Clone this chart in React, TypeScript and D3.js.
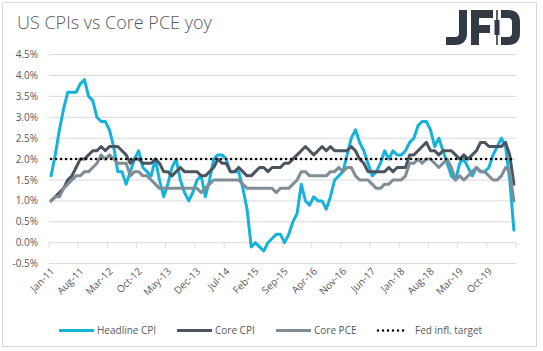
import * as d3 from 'd3';

const W = 543;
const H = 351;

// monthly, Jan-11 .. Apr-20
const START = new Date(2011, 0, 1);
const END = new Date(2020, 4, 1);
const MONTHS = d3.timeMonths(START, END);

const TICK_LABELS = [
  'Jan-11', 'Aug-11', 'Mar-12', 'Oct-12', 'May-13', 'Dec-13', 'Jul-14', 'Feb-15',
  'Sep-15', 'Apr-16', 'Nov-16', 'Jun-17', 'Jan-18', 'Aug-18', 'Mar-19', 'Oct-19',
];
const Y_TICKS = [-0.5, 0, 0.5, 1, 1.5, 2, 2.5, 3, 3.5, 4, 4.5];

const HEADLINE_CPI = [
  1.6, 2.1, 2.7, 3.2, 3.6, 3.6, 3.6, 3.8, 3.9, 3.5, 3.4, 3.0,
  2.9, 2.9, 2.7, 2.3, 1.7, 1.7, 1.4, 1.7, 2.0, 2.2, 1.8, 1.7,
  1.6, 2.0, 1.5, 1.1, 1.4, 1.8, 2.0, 1.5, 1.2, 1.0, 1.2, 1.5,
  1.6, 1.1, 1.5, 2.0, 2.1, 2.1, 2.0, 1.7, 1.7, 1.7, 1.3, 0.8,
  -0.1, 0.0, -0.1, -0.2, 0.0, 0.1, 0.2, 0.2, 0.0, 0.2, 0.5, 0.7,
  1.4, 1.0, 0.9, 1.1, 1.0, 1.0, 0.8, 1.1, 1.5, 1.6, 1.7, 2.1,
  2.5, 2.7, 2.4, 2.2, 1.9, 1.6, 1.7, 1.9, 2.2, 2.0, 2.2, 2.1,
  2.1, 2.2, 2.4, 2.5, 2.8, 2.9, 2.9, 2.7, 2.3, 2.5, 2.2, 1.9,
  1.6, 1.5, 1.9, 2.0, 1.8, 1.6, 1.8, 1.7, 1.7, 1.8, 2.1, 2.3,
  2.5, 2.3, 1.5, 0.3,
];

const CORE_CPI = [
  1.0, 1.1, 1.2, 1.3, 1.5, 1.6, 1.8, 2.0, 2.0, 2.1, 2.2, 2.2,
  2.3, 2.2, 2.3, 2.3, 2.3, 2.2, 2.1, 1.9, 2.0, 2.0, 1.9, 1.9,
  1.9, 2.0, 1.9, 1.7, 1.7, 1.6, 1.7, 1.8, 1.7, 1.7, 1.7, 1.7,
  1.6, 1.6, 1.7, 1.8, 2.0, 1.9, 1.9, 1.7, 1.7, 1.8, 1.7, 1.6,
  1.6, 1.7, 1.8, 1.8, 1.7, 1.8, 1.8, 1.8, 1.9, 1.9, 2.0, 2.1,
  2.2, 2.3, 2.2, 2.1, 2.2, 2.3, 2.2, 2.3, 2.2, 2.2, 2.2, 2.2,
  2.3, 2.2, 2.0, 1.9, 1.7, 1.7, 1.7, 1.7, 1.7, 1.8, 1.7, 1.8,
  1.8, 1.8, 2.1, 2.1, 2.2, 2.3, 2.4, 2.2, 2.2, 2.1, 2.2, 2.2,
  2.2, 2.1, 2.0, 2.1, 2.0, 2.1, 2.2, 2.4, 2.4, 2.3, 2.3, 2.3,
  2.3, 2.4, 2.1, 1.4,
];

const CORE_PCE = [
  1.0, 1.1, 1.1, 1.3, 1.4, 1.5, 1.6, 1.6, 1.7, 1.7, 1.8, 1.9,
  2.1, 2.0, 2.1, 2.0, 1.9, 1.9, 1.9, 1.6, 1.7, 1.7, 1.6, 1.6,
  1.5, 1.4, 1.3, 1.3, 1.3, 1.3, 1.3, 1.3, 1.3, 1.3, 1.3, 1.3,
  1.2, 1.3, 1.4, 1.5, 1.5, 1.5, 1.5, 1.5, 1.5, 1.5, 1.4, 1.3,
  1.3, 1.3, 1.3, 1.3, 1.3, 1.3, 1.2, 1.3, 1.3, 1.3, 1.4, 1.5,
  1.7, 1.7, 1.6, 1.6, 1.6, 1.6, 1.6, 1.7, 1.7, 1.8, 1.7, 1.8,
  1.8, 1.6, 1.5, 1.5, 1.5, 1.4, 1.3, 1.3, 1.4, 1.4, 1.5, 1.5,
  1.5, 1.6, 1.9, 1.9, 2.0, 1.9, 2.0, 2.0, 1.9, 1.8, 1.9, 2.0,
  1.8, 1.5, 1.6, 1.5, 1.6, 1.7, 1.8, 1.7, 1.7, 1.6, 1.5, 1.5,
  1.6, 1.8, 1.7, 1.0,
];

const FED_TARGET = 2.0;

const SERIES = [
  { name: 'Headline CPI', values: HEADLINE_CPI, color: '#15b3d9' },
  { name: 'Core CPI', values: CORE_CPI, color: '#4b5560' },
  { name: 'Core PCE', values: CORE_PCE, color: '#7f8d96' },
];

const TEXT = '#595959';
const GRID = '#d9d9d9';
const FONT = 'Open Sans, Liberation Sans, sans-serif';

function Logo() {
  const c = '#323a44';
  return (
    <g fill="none" stroke={c} strokeWidth={8}>
      {/* J */}
      <path d="M463 10 V33 Q463 41 455 41 H446" />
      {/* F */}
      <path d="M475 10 V45" />
      <path d="M471 14 H493" />
      <path d="M471 29 H490" />
      {/* D with candlestick */}
      <line x1={497} x2={497} y1={10} y2={45} strokeWidth={1.6} />
      <rect x={494.5} y={20} width={5} height={15} fill={c} stroke="none" />
      <path d="M501 14 H508 Q516 14 516 22 V33 Q516 41 508 41 H501" />
    </g>
  );
}

export default function App() {
  const left = 49;
  const right = 516;
  const x = d3
    .scaleBand<number>()
    .domain(d3.range(MONTHS.length))
    .range([left, right])
    .padding(0);
  const bw = x.bandwidth();
  const cx = (i: number) => (x(i) ?? 0) + bw / 2;

  const y = d3.scaleLinear().domain([-0.5, 4.5]).range([263.6, 54.6]);

  const line = d3
    .line<number>()
    .x((_, i) => cx(i))
    .y((d) => y(d));

  const tickIdx = d3.range(0, MONTHS.length, 7);
  const fmtPct = (v: number) => `${v.toFixed(1)}%`;

  const legendY = 330.5;
  const legendItems = [
    { name: 'Headline CPI', color: SERIES[0].color, x0: 59, dotted: false },
    { name: 'Core CPI', color: SERIES[1].color, x0: 177, dotted: false },
    { name: 'Core PCE', color: SERIES[2].color, x0: 276, dotted: false },
    { name: 'Fed infl. target', color: '#000', x0: 377, dotted: true },
  ];

  return (
    <svg
      width={W}
      height={H}
      style={{ position: 'absolute', left: 0, top: 0, background: '#fff' }}
      fontFamily={FONT}
    >
      <rect x={2.5} y={2.5} width={534} height={344} fill="#fff" stroke={GRID} />

      <text x={17} y={29} fontSize={18} fill={TEXT} fontWeight={300}>
        US CPIs vs Core PCE yoy
      </text>
      <Logo />

      {/* grid + y labels */}
      {Y_TICKS.map((v) => (
        <g key={v}>
          {v !== 0 && (
            <line x1={left} x2={right} y1={y(v)} y2={y(v)} stroke={GRID} strokeWidth={1} />
          )}
          <text x={38} y={y(v)} dy="0.35em" textAnchor="end" fontSize={10} fill={TEXT}>
            {fmtPct(v)}
          </text>
        </g>
      ))}

      {/* category axis at 0% */}
      <line x1={left} x2={right} y1={y(0)} y2={y(0)} stroke={GRID} strokeWidth={1} />
      {[...tickIdx, MONTHS.length].map((i) => {
        const tx = i === MONTHS.length ? right : (x(i) ?? 0);
        return (
          <line key={i} x1={tx} x2={tx} y1={y(0)} y2={y(0) + 5} stroke={GRID} strokeWidth={1} />
        );
      })}
      {tickIdx.map((i, k) => (
        <text
          key={i}
          transform={`translate(${cx(i) + 4},${272}) rotate(-45)`}
          textAnchor="end"
          fontSize={10}
          fill={TEXT}
        >
          {TICK_LABELS[k]}
        </text>
      ))}

      {/* series */}
      {SERIES.map((s) => (
        <path
          key={s.name}
          d={line(s.values) ?? ''}
          fill="none"
          stroke={s.color}
          strokeWidth={3}
          strokeLinejoin="round"
          strokeLinecap="round"
        />
      ))}
      <line
        x1={cx(0)}
        x2={cx(MONTHS.length - 1)}
        y1={y(FED_TARGET)}
        y2={y(FED_TARGET)}
        stroke="#000"
        strokeWidth={2.5}
        strokeDasharray="0 5"
        strokeLinecap="round"
      />

      {/* legend */}
      {legendItems.map((it) => (
        <g key={it.name}>
          {it.dotted ? (
            <line
              x1={it.x0 + 1}
              x2={it.x0 + 27}
              y1={legendY}
              y2={legendY}
              stroke="#000"
              strokeWidth={2.5}
              strokeDasharray="0 5"
              strokeLinecap="round"
            />
          ) : (
            <line
              x1={it.x0}
              x2={it.x0 + 35}
              y1={legendY}
              y2={legendY}
              stroke={it.color}
              strokeWidth={3}
            />
          )}
          <text
            x={it.dotted ? it.x0 + 38 : it.x0 + 38}
            y={legendY}
            dy="0.35em"
            fontSize={10}
            fill={TEXT}
          >
            {it.name}
          </text>
        </g>
      ))}
    </svg>
  );
}
